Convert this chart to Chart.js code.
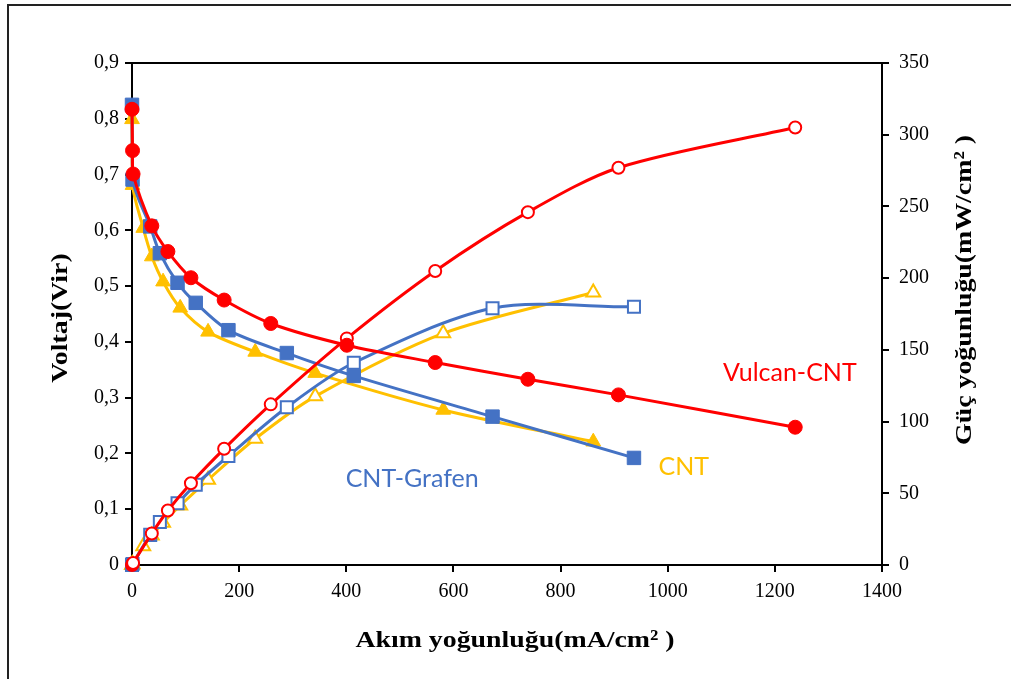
<!DOCTYPE html>
<html>
<head>
<meta charset="utf-8">
<script src="https://cdn.jsdelivr.net/npm/chart.js@4"></script>
<style>
  html, body { margin: 0; padding: 0; background: #fff; }
</style>
</head>
<body>
<canvas id="chart" width="1011" height="679"></canvas>
<script>
"use strict";

// Vulcan-CNT
const vulcanCurrent = [0, 1, 2, 37, 67, 110, 172, 259, 401, 566, 739, 908, 1238];
const vulcanVoltage = [0.817, 0.743, 0.701, 0.608, 0.562, 0.515, 0.475, 0.433, 0.394, 0.363, 0.333, 0.305, 0.247];
const vulcanPower = [0, 0.7, 1.4, 22, 38, 57, 81, 112, 158, 205, 246, 277, 305];

// CNT-Grafen
const grafenCurrent = [0, 1, 34, 52, 85, 119, 180, 289, 414, 673, 937];
const grafenVoltage = [0.825, 0.691, 0.607, 0.559, 0.506, 0.470, 0.421, 0.380, 0.339, 0.266, 0.192];
const grafenPower = [0, 0.7, 21, 30, 43, 56, 76, 110, 141, 179, 180];

// CNT
const cntCurrent = [0, 1, 21, 37, 58, 90, 142, 230, 342, 581, 861];
const cntVoltage = [0.799, 0.681, 0.604, 0.553, 0.508, 0.461, 0.418, 0.382, 0.344, 0.278, 0.221];
const cntPower = [0, 0.7, 13, 20.5, 29.5, 41.5, 59.4, 88, 117.6, 161.5, 190];

const xTicks = [0, 200, 400, 600, 800, 1000, 1200, 1400];

const RED = "#ff0000";
const BLUE = "#4472c4";
const GOLD = "#ffc000";

function pts(xs, ys) {
  return xs.map((x, i) => ({ x: x, y: ys[i] }));
}

// free text labels placed in data coordinates (current, voltage)
const seriesLabels = [
  { text: "Vulcan-CNT", x: 1228, y: 0.344, color: RED },
  { text: "CNT", x: 1030, y: 0.176, color: GOLD },
  { text: "CNT-Grafen", x: 523, y: 0.155, color: BLUE },
];

const serif = "'Liberation Serif', 'Times New Roman', serif";
const sans = "Lato, 'Open Sans', sans-serif";

// bold serif title, slightly widened along its reading direction
function title(ctx, text, x, y, angle) {
  ctx.save();
  ctx.translate(x, y);
  ctx.rotate(angle);
  ctx.scale(1.16, 1);
  ctx.fillText(text, 0, 0);
  ctx.restore();
}

const decorations = {
  id: "decorations",
  afterDraw(chart) {
    const ctx = chart.ctx;
    const a = chart.chartArea;
    const xs = chart.scales.x;
    const ys = chart.scales.y;
    ctx.save();

    // outer frame
    ctx.strokeStyle = "#222";
    ctx.lineWidth = 2;
    ctx.beginPath();
    ctx.moveTo(8, 679);
    ctx.lineTo(8, 5);
    ctx.lineTo(1011, 5);
    ctx.stroke();

    // top edge of plot box
    ctx.strokeStyle = "#000";
    ctx.beginPath();
    ctx.moveTo(a.left, a.top);
    ctx.lineTo(a.right, a.top);
    ctx.stroke();

    // axis titles
    ctx.fillStyle = "#000";
    ctx.font = "bold 24px " + serif;
    ctx.textAlign = "center";
    ctx.textBaseline = "middle";
    title(ctx, "Akım yoğunluğu(mA/cm² )", 515, 641, 0);
    title(ctx, "Voltaj(Vir)", 61, 318, -Math.PI / 2);
    title(ctx, "Güç yoğunluğu(mW/cm² )", 965, 290, -Math.PI / 2);

    // series names
    ctx.font = "25px " + sans;
    seriesLabels.forEach((l) => {
      ctx.fillStyle = l.color;
      ctx.fillText(l.text, xs.getPixelForValue(l.x), ys.getPixelForValue(l.y));
    });

    ctx.restore();
  },
};

function voltSet(xs, ys, color, style, radius, order) {
  return {
    data: pts(xs, ys),
    yAxisID: "y",
    borderColor: color,
    backgroundColor: color,
    pointBackgroundColor: color,
    pointBorderColor: color,
    pointStyle: style,
    pointRadius: radius,
    pointBorderWidth: 1,
    borderWidth: 3,
    showLine: true,
    tension: 0.3,
    clip: false,
    order: order,
  };
}

function powerSet(xs, ys, color, style, radius, order) {
  return {
    data: pts(xs, ys),
    yAxisID: "y2",
    borderColor: color,
    backgroundColor: "#fff",
    pointBackgroundColor: "#fff",
    pointBorderColor: color,
    pointStyle: style,
    pointRadius: radius,
    pointBorderWidth: 2,
    borderWidth: 3,
    showLine: true,
    tension: 0.3,
    clip: false,
    order: order,
  };
}

const axisLine = { display: true, color: "#000", width: 2 };
const tickGrid = { drawOnChartArea: false, drawTicks: true, tickLength: 7, color: "#000", lineWidth: 2 };
const tickFont = { family: serif, size: 20 };

new Chart(document.getElementById("chart"), {
  type: "scatter",
  data: {
    datasets: [
      voltSet(vulcanCurrent, vulcanVoltage, RED, "circle", 7, 1),
      powerSet(vulcanCurrent, vulcanPower, RED, "circle", 6, 2),
      voltSet(grafenCurrent, grafenVoltage, BLUE, "rect", 9.5, 3),
      powerSet(grafenCurrent, grafenPower, BLUE, "rect", 8.5, 4),
      voltSet(cntCurrent, cntVoltage, GOLD, "triangle", 8.5, 5),
      powerSet(cntCurrent, cntPower, GOLD, "triangle", 8, 6),
    ],
  },
  options: {
    responsive: false,
    animation: false,
    devicePixelRatio: 1,
    layout: { padding: { top: 63, left: 0, right: 0, bottom: 0 } },
    plugins: { legend: { display: false }, tooltip: { enabled: false } },
    scales: {
      x: {
        type: "linear",
        min: 0,
        max: 1400,
        afterBuildTicks: (s) => { s.ticks = xTicks.map((v) => ({ value: v })); },
        ticks: { font: tickFont, color: "#000", padding: 8, maxRotation: 0, callback: (v) => String(v) },
        border: axisLine,
        grid: tickGrid,
        afterFit: (s) => { s.height = 114; s.paddingLeft = 0; s.paddingRight = 0; },
      },
      y: {
        position: "left",
        min: 0,
        max: 0.9,
        ticks: {
          stepSize: 0.1,
          font: tickFont,
          color: "#000",
          padding: 6,
          callback: (v) => (v === 0 ? "0" : v.toFixed(1).replace(".", ",")),
        },
        border: axisLine,
        grid: tickGrid,
        afterFit: (s) => { s.width = 132; s.paddingTop = 0; s.paddingBottom = 0; },
      },
      y2: {
        position: "right",
        min: 0,
        max: 350,
        ticks: { stepSize: 50, font: tickFont, color: "#000", padding: 10, callback: (v) => String(v) },
        border: axisLine,
        grid: tickGrid,
        afterFit: (s) => { s.width = 129; s.paddingTop = 0; s.paddingBottom = 0; },
      },
    },
  },
  plugins: [decorations],
});
</script>
</body>
</html>
